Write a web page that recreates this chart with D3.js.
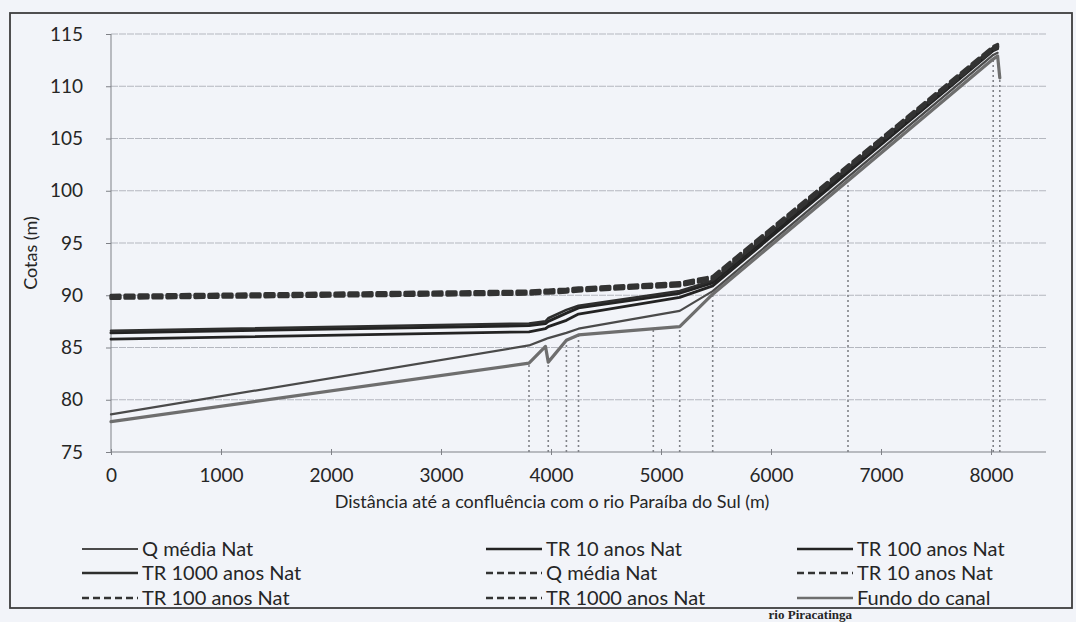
<!DOCTYPE html>
<html>
<head>
<meta charset="utf-8">
<script src="https://cdn.jsdelivr.net/npm/d3@7/dist/d3.min.js"></script>
<style>
  html, body { margin: 0; padding: 0; background: #f2f4f9; overflow: hidden; }
  svg { display: block; }
  text { font-family: Lato, "Open Sans", sans-serif; fill: #262626; }
</style>
</head>
<body>
<svg id="chart" width="1076" height="622"></svg>
<script>
// Longitudinal water-surface profiles (m) along the channel, by distance to the confluence
const distancias = [0, 3800, 3950, 3975, 4140, 4250, 5170, 5470, 8020, 8060, 8080];

const qMediaNat    = [78.6, 85.2, 85.8, 85.9, 86.4, 86.8, 88.5, 90.4, 113.0, 113.2, null];
const tr10Nat      = [85.8, 86.5, 86.8, 87.0, 87.6, 88.2, 89.8, 90.9, 113.4, 113.6, null];
const tr100Nat     = [86.4, 87.1, 87.3, 87.5, 88.3, 88.8, 90.2, 91.2, 113.6, 113.8, null];
const tr1000Nat    = [86.6, 87.3, 87.5, 87.8, 88.6, 89.0, 90.4, 91.4, 113.7, 113.9, null];
const qMediaNatD   = [89.7, 90.1, 90.2, 90.2, 90.3, 90.4, 90.9, 91.5, 113.5, 113.7, null];
const tr10NatD     = [89.8, 90.2, 90.3, 90.3, 90.4, 90.5, 91.0, 91.6, 113.6, 113.8, null];
const tr100NatD    = [89.9, 90.3, 90.4, 90.4, 90.5, 90.6, 91.1, 91.7, 113.7, 113.9, null];
const tr1000NatD   = [90.0, 90.4, 90.5, 90.5, 90.6, 90.7, 91.2, 91.8, 113.8, 114.0, null];
const fundoCanal   = [77.9, 83.5, 85.1, 83.6, 85.7, 86.2, 87.0, 90.1, 112.6, 112.9, 110.8];

// Cross-section stations marked with dotted verticals
const secoes = [3800, 3975, 4140, 4250, 4930, 5170, 5470, 6700, 8020, 8080];

const xTicks = [0, 1000, 2000, 3000, 4000, 5000, 6000, 7000, 8000];
const yTicks = [75, 80, 85, 90, 95, 100, 105, 110, 115];

const series = [
  { nome: "Q média Nat",      valores: qMediaNat,  cor: "#4a4a4a", largura: 2.2, traco: null },
  { nome: "TR 10 anos Nat",   valores: tr10Nat,    cor: "#232323", largura: 2.8, traco: null },
  { nome: "TR 100 anos Nat",  valores: tr100Nat,   cor: "#232323", largura: 3.0, traco: null },
  { nome: "TR 1000 anos Nat", valores: tr1000Nat,  cor: "#2e2e2e", largura: 2.6, traco: null },
  { nome: "Q média Nat",      valores: qMediaNatD, cor: "#333333", largura: 3.2, traco: "9,5" },
  { nome: "TR 10 anos Nat",   valores: tr10NatD,   cor: "#333333", largura: 3.2, traco: "9,5" },
  { nome: "TR 100 anos Nat",  valores: tr100NatD,  cor: "#333333", largura: 3.2, traco: "9,5" },
  { nome: "TR 1000 anos Nat", valores: tr1000NatD, cor: "#333333", largura: 3.2, traco: "9,5" },
  { nome: "Fundo do canal",   valores: fundoCanal, cor: "#6e6e6e", largura: 3.2, traco: null }
];

const svg = d3.select("#chart");

// outer chart frame
svg.append("rect")
  .attr("x", 10).attr("y", 13).attr("width", 1062).attr("height", 595)
  .attr("fill", "none").attr("stroke", "#3e3e3e").attr("stroke-width", 1.8);

const x = d3.scaleLinear().domain([0, 8500]).range([111, 1046]);
const y = d3.scaleLinear().domain([75, 115]).range([452, 34]);

// horizontal gridlines
svg.append("g")
  .selectAll("line")
  .data(yTicks.slice(1))
  .join("line")
  .attr("x1", x(0)).attr("x2", x(8500))
  .attr("y1", d => y(d)).attr("y2", d => y(d))
  .attr("stroke", "#b4b7bf").attr("stroke-width", 1).attr("stroke-dasharray", "7,1");

// x axis
const xAxis = svg.append("g")
  .attr("transform", `translate(0,${y(75)})`)
  .call(d3.axisBottom(x).tickValues(xTicks).tickSize(5).tickFormat(d3.format("d")));
xAxis.select(".domain").attr("stroke", "#7f8187").attr("d", `M${x(0)},0H${x(8500)}`);
xAxis.selectAll(".tick line").attr("stroke", "#7f8187").attr("y1", -3).attr("y2", 3);
xAxis.selectAll(".tick text").attr("dy", "1.15em").style("font-size", "19px").attr("fill", "#262626");

// y axis
const yAxis = svg.append("g")
  .attr("transform", `translate(${x(0)},0)`)
  .call(d3.axisLeft(y).tickValues(yTicks).tickSize(5));
yAxis.select(".domain").attr("stroke", "#7f8187").attr("d", `M0,${y(115)}V${y(75)}`);
yAxis.selectAll(".tick line").attr("stroke", "#7f8187");
yAxis.selectAll(".tick text").attr("x", -28).style("font-size", "19px").attr("fill", "#262626");

// axis titles
svg.append("text")
  .attr("x", 552).attr("y", 508).attr("text-anchor", "middle")
  .style("font-size", "18px")
  .text("Distância  até a confluência com o rio Paraíba do Sul (m)");
svg.append("text")
  .attr("transform", "translate(37,253) rotate(-90)")
  .attr("text-anchor", "middle").style("font-size", "18px")
  .text("Cotas (m)");

// dotted cross-section verticals, from the axis up to the channel bed
const fundoEm = d => {
  for (let i = 1; i < distancias.length; i++) {
    if (d <= distancias[i]) {
      const t = (d - distancias[i - 1]) / (distancias[i] - distancias[i - 1]);
      return fundoCanal[i - 1] + t * (fundoCanal[i] - fundoCanal[i - 1]);
    }
  }
  return fundoCanal[fundoCanal.length - 1];
};
svg.append("g")
  .selectAll("line")
  .data(secoes)
  .join("line")
  .attr("x1", d => x(d)).attr("x2", d => x(d))
  .attr("y1", y(75)).attr("y2", d => y(fundoEm(d)))
  .attr("stroke", "#808288").attr("stroke-width", 1.6).attr("stroke-dasharray", "2,3");

// profile lines
const linha = d3.line()
  .defined(d => d[1] !== null)
  .x(d => x(d[0])).y(d => y(d[1]));

svg.append("g")
  .selectAll("path")
  .data(series)
  .join("path")
  .attr("d", s => linha(distancias.map((d, i) => [d, s.valores[i]])))
  .attr("fill", "none")
  .attr("stroke", s => s.cor)
  .attr("stroke-width", s => s.largura)
  .attr("stroke-dasharray", s => s.traco)
  .attr("stroke-linejoin", "round")
  .attr("stroke-linecap", "round");

// legend: three columns, three rows
const legCols = [82, 486, 797];
const legRows = [549, 573, 598];
const legenda = svg.append("g")
  .selectAll("g")
  .data(series)
  .join("g")
  .attr("transform", (s, i) => `translate(${legCols[i % 3]},${legRows[Math.floor(i / 3)]})`);
legenda.append("line")
  .attr("x1", 0).attr("x2", 56).attr("y1", 0).attr("y2", 0)
  .attr("stroke", s => s.cor)
  .attr("stroke-width", s => Math.min(s.largura, 2.6))
  .attr("stroke-dasharray", s => s.traco ? "7,4" : null);
legenda.append("text")
  .attr("x", 60).attr("dy", "0.35em")
  .style("font-size", "20px")
  .text(s => s.nome);

// figure caption line below the frame
svg.append("text")
  .attr("x", 852).attr("y", 619).attr("text-anchor", "end")
  .style("font-family", "'Liberation Serif', serif")
  .style("font-weight", "bold").style("font-size", "13px")
  .text("rio Piracatinga");
</script>
</body>
</html>
